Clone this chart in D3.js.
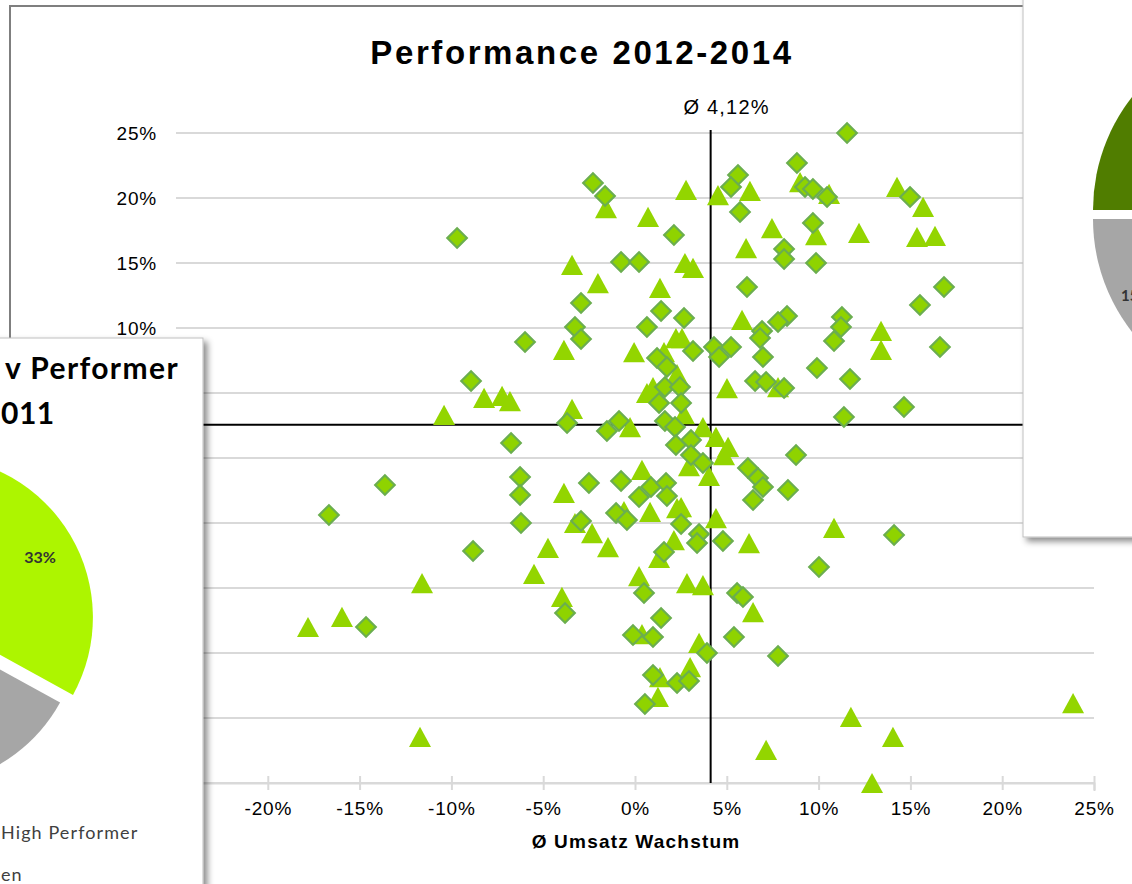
<!DOCTYPE html>
<html>
<head>
<meta charset="utf-8">
<script src="https://cdn.jsdelivr.net/npm/d3@7"></script>
<style>
  body { margin: 0; background: #fff; overflow: hidden; }
</style>
</head>
<body>
<div id="chart"></div>
<script>
// values, in percent: [umsatz wachstum, y]
const diamonds = [
  [11.55,25.0],[8.82,22.69],[-2.29,21.15],[-1.63,20.15],[5.61,21.77],[5.23,20.85],[5.72,18.92],
  [9.26,20.85],[9.69,20.69],[10.46,20.08],[14.98,20.08],[-9.69,16.92],[2.12,17.15],[9.69,18.08],
  [-0.76,15.08],[0.22,15.08],[8.12,16.08],[8.12,15.31],[9.86,15.0],[6.10,13.15],[16.83,13.15],
  [-2.94,11.92],[1.42,11.31],[15.52,11.77],[11.27,10.85],[8.28,10.92],[7.79,10.46],[11.22,10.08],
  [-3.27,10.08],[0.65,10.08],[2.67,10.77],[-2.94,9.15],[-5.99,8.92],[6.92,9.77],[6.81,9.23],
  [10.84,9.0],[16.61,8.54],[3.16,8.23],[4.30,8.54],[5.23,8.54],[4.58,7.77],[6.97,7.77],
  [1.20,7.69],[1.74,7.0],[9.91,6.92],[11.71,6.08],[-8.93,5.92],[6.54,5.92],[7.14,5.85],
  [8.12,5.38],[1.63,5.46],[2.45,5.46],[1.31,4.23],[2.51,4.23],[14.65,3.92],[11.38,3.15],
  [-3.70,2.69],[-0.87,2.85],[-1.53,2.08],[1.63,2.85],[2.18,2.38],[-6.75,1.15],[2.23,1.0],
  [3.05,1.38],[3.05,0.23],[3.70,-0.38],[6.15,-0.77],[8.77,0.23],[6.70,-1.54],[6.97,-2.23],
  [8.33,-2.46],[6.43,-3.23],[-13.62,-2.08],[-16.67,-4.38],[-6.26,-1.46],[-6.26,-2.85],[-6.21,-5.0],
  [-2.51,-1.92],[-0.76,-1.77],[0.87,-2.23],[1.69,-1.92],[0.22,-3.0],[1.74,-2.92],[-1.03,-4.23],
  [-0.44,-4.77],[-2.94,-4.85],[2.51,-5.08],[3.49,-5.85],[3.38,-6.54],[1.58,-7.23],[4.79,-6.38],
  [-8.82,-7.15],[14.11,-5.92],[10.02,-8.38],[0.49,-10.38],[-3.81,-11.92],[5.56,-10.38],[5.88,-10.69],
  [1.42,-12.31],[-0.11,-13.62],[0.98,-13.77],[5.39,-13.77],[-14.65,-13.0],[3.92,-15.0],[7.79,-15.23],
  [0.98,-16.69],[2.29,-17.31],[2.94,-17.15],[0.54,-18.92]
];

const triangles = [
  [-1.58,19.23],[2.78,20.62],[4.52,20.23],[6.26,20.54],[8.99,21.23],[10.57,20.31],[14.27,20.85],
  [15.69,19.31],[0.71,18.54],[7.46,17.69],[9.86,17.15],[12.20,17.31],[15.36,17.0],[16.34,17.08],
  [6.05,16.15],[-3.43,14.85],[2.72,15.0],[3.16,14.62],[-2.02,13.46],[1.36,13.08],[5.83,10.62],
  [13.40,9.77],[13.40,8.31],[-3.87,8.31],[-0.05,8.15],[2.23,9.23],[2.56,9.23],[1.58,8.15],
  [2.29,6.46],[5.01,5.38],[7.79,5.46],[0.65,5.0],[0.98,5.46],[2.67,3.38],[-8.22,4.62],
  [-7.24,4.77],[-6.81,4.38],[-10.40,3.31],[-3.43,3.77],[-0.27,2.38],[3.70,2.38],[4.41,1.62],
  [5.07,0.85],[4.85,0.23],[2.94,-0.62],[4.03,-1.38],[0.38,-0.92],[-3.87,-2.69],[2.29,-3.85],
  [2.51,-3.77],[0.82,-4.15],[-0.60,-4.08],[-3.27,-5.0],[-2.34,-5.77],[-1.47,-6.85],[-4.74,-6.92],
  [-5.50,-8.92],[2.12,-6.31],[1.31,-7.69],[4.41,-4.62],[6.21,-6.54],[10.84,-5.38],[0.22,-9.08],
  [2.83,-9.62],[3.70,-9.77],[-3.98,-10.69],[-11.60,-9.62],[6.43,-11.85],[0.38,-13.54],[3.49,-14.23],
  [3.0,-16.08],[1.36,-16.85],[1.25,-18.38],[-17.81,-13.0],[-15.96,-12.23],[-11.71,-21.46],[7.14,-22.46],
  [11.76,-19.92],[14.05,-21.46],[12.91,-25.0],[23.86,-18.85]
];

const xTicks = [-25, -20, -15, -10, -5, 0, 5, 10, 15, 20, 25];
const xTickLabels = [-20, -15, -10, -5, 0, 5, 10, 15, 20, 25];   // -25% sits under the pie panel
const yTicks = [-25, -20, -15, -10, -5, 0, 5, 10, 15, 20, 25];
const yTickLabels = [10, 15, 20, 25];                           // the rest sits under the pie panel
const avgX = 4.12;
const avgY = 2.55;

// pie panels (only parts of them are inside the picture)
const leftPieValues = [33, 27, 40];
const leftPieLabels = ["33%", "", ""];
const leftPieColors = ["#adf500", "#a6a6a6", "#507d00"];
const leftLegend = ["High Performer", "en"];

const rightPieValues = [60, 15, 25];
const rightPieLabels = ["", "15%", ""];
const rightPieColors = ["#adf500", "#a6a6a6", "#507d00"];

const W = 1132, H = 884;
const svg = d3.select("#chart").append("svg")
  .attr("width", W).attr("height", H)
  .style("font-family", "'Liberation Sans', Arial, sans-serif");

const defs = svg.append("defs");
defs.append("filter").attr("id", "shadow")
  .attr("x", "-10%").attr("y", "-10%").attr("width", "130%").attr("height", "130%")
  .append("feDropShadow")
  .attr("dx", 4).attr("dy", 4).attr("stdDeviation", 3)
  .attr("flood-color", "#000").attr("flood-opacity", 0.45);

// ---- main chart ----
svg.append("rect")
  .attr("x", 10).attr("y", 6).attr("width", 1200).attr("height", 1000)
  .attr("fill", "#fff").attr("stroke", "#7f7f7f").attr("stroke-width", 2);

const x = d3.scaleLinear().domain([-25, 25]).range([176, 1094]);
const y = d3.scaleLinear().domain([-25, 25]).range([783, 133]);

svg.append("text")
  .attr("x", 582).attr("y", 64)
  .attr("text-anchor", "middle")
  .style("font-size", "33px").style("font-weight", "bold")
  .style("letter-spacing", "2.6px")
  .text("Performance 2012-2014");

// gridlines
svg.append("g")
  .selectAll("line")
  .data(yTicks)
  .join("line")
  .attr("x1", x(-25)).attr("x2", x(25))
  .attr("y1", d => y(d)).attr("y2", d => y(d))
  .attr("stroke", "#d9d9d9").attr("stroke-width", 2);

// y tick labels
svg.append("g")
  .selectAll("text")
  .data(yTickLabels)
  .join("text")
  .attr("x", 157).attr("y", d => y(d))
  .attr("dy", "0.35em")
  .attr("text-anchor", "end")
  .style("font-size", "19px")
  .style("letter-spacing", "0.8px")
  .attr("fill", "#000")
  .text(d => d + "%");

// x axis at the bottom
const xAxis = svg.append("g")
  .attr("transform", `translate(0,${y(-25)})`)
  .call(d3.axisBottom(x).tickValues(xTicks).tickSize(8)
    .tickFormat(d => xTickLabels.includes(d) ? d + "%" : ""));
xAxis.select(".domain").attr("stroke", "#d9d9d9").attr("stroke-width", 2);
xAxis.selectAll(".tick line")
  .attr("y1", -7).attr("y2", 7)
  .attr("stroke", "#d9d9d9").attr("stroke-width", 2);
xAxis.selectAll(".tick text")
  .attr("y", 19)
  .attr("dy", "0.71em")
  .attr("fill", "#000")
  .style("font-size", "19px")
  .style("letter-spacing", "0.8px")
  .style("font-family", "'Liberation Sans', Arial, sans-serif");

svg.append("text")
  .attr("x", 636).attr("y", 848)
  .attr("text-anchor", "middle")
  .style("font-size", "19px").style("font-weight", "bold")
  .style("letter-spacing", "1.2px")
  .text("Ø Umsatz Wachstum");

// average lines
svg.append("line")
  .attr("x1", x(-25)).attr("x2", x(25))
  .attr("y1", y(avgY)).attr("y2", y(avgY))
  .attr("stroke", "#000").attr("stroke-width", 2);
svg.append("line")
  .attr("x1", x(avgX)).attr("x2", x(avgX))
  .attr("y1", y(25) - 3).attr("y2", y(-25))
  .attr("stroke", "#000").attr("stroke-width", 2);
svg.append("text")
  .attr("x", x(avgX) + 16).attr("y", 114)
  .attr("text-anchor", "middle")
  .style("font-size", "20px")
  .style("letter-spacing", "1.2px")
  .text("Ø " + avgX.toFixed(2).replace(".", ",") + "%");

// triangle marker centred on its box, like the spreadsheet marker
const triangleType = {
  draw(ctx, size) {
    const w = Math.sqrt(size * 2.2), h = w * 0.92;
    ctx.moveTo(0, -h / 2);
    ctx.lineTo(w / 2, h / 2);
    ctx.lineTo(-w / 2, h / 2);
    ctx.closePath();
  }
};

svg.append("g")
  .selectAll("path")
  .data(triangles)
  .join("path")
  .attr("transform", d => `translate(${x(d[0])},${y(d[1])})`)
  .attr("d", d3.symbol(triangleType, 220))
  .attr("fill", "#93d500");

svg.append("g")
  .selectAll("path")
  .data(diamonds)
  .join("path")
  .attr("transform", d => `translate(${x(d[0])},${y(d[1])}) rotate(45)`)
  .attr("d", d3.symbol(d3.symbolSquare, 190))
  .attr("fill", "#8fd300")
  .attr("stroke", "#6bae4f")
  .attr("stroke-width", 2.2);

// ---- left overlay panel ----
const lp = svg.append("g");
lp.append("rect")
  .attr("x", -20).attr("y", 338).attr("width", 223).attr("height", 600)
  .attr("fill", "#fff").attr("stroke", "#bfbfbf").attr("stroke-width", 1)
  .attr("filter", "url(#shadow)");

lp.append("text")
  .attr("x", 179).attr("y", 379)
  .attr("text-anchor", "end")
  .style("font-family", "Lato, 'Open Sans', sans-serif")
  .style("font-size", "30px").style("font-weight", "bold")
  .style("letter-spacing", "1.4px")
  .text("v Performer");
lp.append("text")
  .attr("x", 1).attr("y", 424)
  .style("font-family", "Lato, 'Open Sans', sans-serif")
  .style("font-size", "30px").style("font-weight", "bold")
  .style("letter-spacing", "0.5px")
  .text("011");

const pie = d3.pie().sort(null).value(d => d);
const leftArcs = pie(leftPieValues);
const leftR = 161;
const leftArc = d3.arc().innerRadius(0).outerRadius(leftR);
const leftCenter = [-81, 625];
const leftExplode = [15, 0, 0];

lp.append("g")
  .selectAll("path")
  .data(leftArcs)
  .join("path")
  .attr("transform", (d, i) => {
    const a = (d.startAngle + d.endAngle) / 2;
    return `translate(${leftCenter[0] + Math.sin(a) * leftExplode[i]},${leftCenter[1] - Math.cos(a) * leftExplode[i]})`;
  })
  .attr("d", leftArc)
  .attr("fill", (d, i) => leftPieColors[i]);

lp.append("g")
  .selectAll("text")
  .data(leftArcs)
  .join("text")
  .attr("transform", (d, i) => {
    const a = (d.startAngle + d.endAngle) / 2;
    const c = d3.arc().innerRadius(leftR * 0.78).outerRadius(leftR * 0.78).centroid(d);
    return `translate(${leftCenter[0] + c[0] + Math.sin(a) * leftExplode[i]},${leftCenter[1] + c[1] - Math.cos(a) * leftExplode[i]})`;
  })
  .attr("text-anchor", "middle").attr("dy", "0.6em")
  .style("font-family", "Lato, 'Open Sans', sans-serif")
  .style("font-size", "16px").style("font-weight", "bold")
  .attr("fill", "#333")
  .text((d, i) => leftPieLabels[i]);

lp.append("g")
  .selectAll("text")
  .data(leftLegend)
  .join("text")
  .attr("x", 1)
  .attr("y", (d, i) => 839 + i * 42)
  .style("font-family", "Lato, 'Open Sans', sans-serif")
  .style("font-size", "18px")
  .style("letter-spacing", "1.1px")
  .attr("fill", "#404040")
  .text(d => d);

// ---- right overlay panel ----
const rp = svg.append("g");
rp.append("rect")
  .attr("x", 1023).attr("y", -20).attr("width", 200).attr("height", 557)
  .attr("fill", "#fff").attr("stroke", "#bfbfbf").attr("stroke-width", 1)
  .attr("filter", "url(#shadow)");

const rightArcs = pie(rightPieValues);
const rightR = 183;
const rightArc = d3.arc().innerRadius(0).outerRadius(rightR);
const rightCenter = [1276, 219];
const rightShift = [[0, 0], [0, 0], [0, -9]];

rp.append("g")
  .selectAll("path")
  .data(rightArcs)
  .join("path")
  .attr("transform", (d, i) => `translate(${rightCenter[0] + rightShift[i][0]},${rightCenter[1] + rightShift[i][1]})`)
  .attr("d", rightArc)
  .attr("fill", (d, i) => rightPieColors[i]);

rp.append("g")
  .selectAll("text")
  .data(rightArcs)
  .join("text")
  .attr("transform", d => {
    const c = d3.arc().innerRadius(rightR * 0.86).outerRadius(rightR * 0.86).centroid(d);
    return `translate(${rightCenter[0] + c[0]},${rightCenter[1] + c[1]})`;
  })
  .attr("text-anchor", "middle").attr("dy", "0.72em")
  .style("font-family", "Lato, 'Open Sans', sans-serif")
  .style("font-size", "15px").style("font-weight", "bold")
  .attr("fill", "#333")
  .text((d, i) => rightPieLabels[i]);
</script>
</body>
</html>
